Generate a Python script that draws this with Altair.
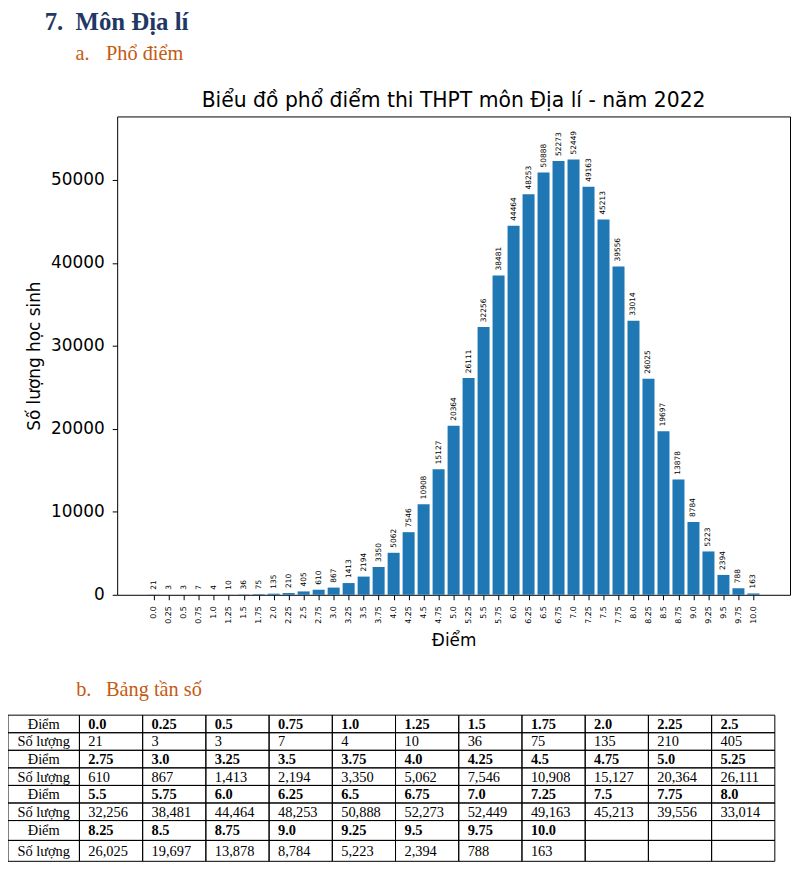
import altair as alt
import pandas as pd

# ---------------- data ----------------
SCORES = [0.0, 0.25, 0.5, 0.75, 1.0, 1.25, 1.5, 1.75, 2.0, 2.25, 2.5,
          2.75, 3.0, 3.25, 3.5, 3.75, 4.0, 4.25, 4.5, 4.75, 5.0, 5.25,
          5.5, 5.75, 6.0, 6.25, 6.5, 6.75, 7.0, 7.25, 7.5, 7.75, 8.0,
          8.25, 8.5, 8.75, 9.0, 9.25, 9.5, 9.75, 10.0]
COUNTS = [21, 3, 3, 7, 4, 10, 36, 75, 135, 210, 405,
          610, 867, 1413, 2194, 3350, 5062, 7546, 10908, 15127, 20364, 26111,
          32256, 38481, 44464, 48253, 50888, 52273, 52449, 49163, 45213, 39556, 33014,
          26025, 19697, 13878, 8784, 5223, 2394, 788, 163]
Y_TICKS = [0, 10000, 20000, 30000, 40000, 50000]

HEAD_NUM = "7."
HEAD_TEXT = "Môn Địa lí"
SUB_A = ("a.", "Phổ điểm")
SUB_B = ("b.", "Bảng tần số")
CHART_TITLE = "Biểu đồ phổ điểm thi THPT môn Địa lí - năm 2022"
X_TITLE = "Điểm"
Y_TITLE = "Số lượng học sinh"
ROW_LABELS = ["Điểm", "Số lượng"]

# ---------------- layout ----------------
W, H = 678, 482
SERIF = "Liberation Serif"
SANS = "DejaVu Sans"
NAVY = "#1F3864"
ORANGE = "#C55A11"

df = pd.DataFrame({"score": SCORES, "count": COUNTS})
df["label"] = df["count"].astype(str)

xscale = alt.Scale(domain=[-0.61, 10.61], nice=False, zero=False)
yscale = alt.Scale(domain=[0, 57640], nice=False)

xaxis = alt.Axis(
    values=SCORES, title=X_TITLE, labelAngle=270,
    labelExpr="datum.value % 1 === 0 ? format(datum.value, '.1f') : toString(datum.value)",
    labelFont=SANS, labelFontSize=8, labelColor="black", labelPadding=6,
    labelFlush=False, labelOverlap=False,
    tickSize=5, tickColor="black", tickWidth=1, domain=False, grid=False,
    titleFont=SANS, titleFontSize=17, titleFontWeight="normal", titleColor="black",
    titleX=W / 2, titleY=51, titleBaseline="alphabetic", titleAlign="center")
yaxis = alt.Axis(
    values=Y_TICKS, format="d", title=Y_TITLE,
    labelFont=SANS, labelFontSize=17, labelColor="black", labelPadding=8,
    tickSize=5, tickColor="black", tickWidth=1, domain=False, grid=False,
    titleFont=SANS, titleFontSize=17, titleFontWeight="normal", titleColor="black",
    titleAngle=270, titleX=-78.5, titleY=H / 2, titleBaseline="alphabetic",
    titleAlign="center")

bars = alt.Chart(df).transform_calculate(
    x0="datum.score - 0.1", x1="datum.score + 0.1", base="0"
).mark_rect(color="#1f77b4").encode(
    x=alt.X("x0:Q", scale=xscale, axis=xaxis, title=X_TITLE),
    x2="x1:Q",
    y=alt.Y("count:Q", scale=yscale, axis=yaxis, title=Y_TITLE),
    y2="base:Q",
)

bar_labels = alt.Chart(df).mark_text(
    angle=270, align="left", baseline="middle", dx=5,
    font=SANS, fontSize=7.5, color="black"
).encode(
    x=alt.X("score:Q", scale=xscale, axis=xaxis, title=X_TITLE),
    y=alt.Y("count:Q", scale=yscale, axis=yaxis, title=Y_TITLE),
    text="label:N",
)

plot = alt.layer(bars, bar_labels)


def label(txt, x, y, **style):
    return alt.Chart(pd.DataFrame({"t": [txt]})).mark_text(
        baseline="alphabetic", **style
    ).encode(x=alt.value(x), y=alt.value(y), text="t:N")


heads = [
    label(HEAD_NUM, -73, -87.5, align="left", font=SERIF, fontSize=25,
          fontWeight="bold", color=NAVY),
    label(HEAD_TEXT, -42, -87.5, align="left", font=SERIF, fontSize=25,
          fontWeight="bold", color=NAVY),
    label(SUB_A[0], -42, -56.7, align="left", font=SERIF, fontSize=20.5, color=ORANGE),
    label(SUB_A[1], -11.3, -56.7, align="left", font=SERIF, fontSize=20.5, color=ORANGE),
    label(CHART_TITLE, W / 2, -10, align="center", font=SANS, fontSize=20.5,
          color="black"),
    label(SUB_B[0], -41.3, 584.3, align="left", font=SERIF, fontSize=20.5, color=ORANGE),
    label(SUB_B[1], -11.3, 584.3, align="left", font=SERIF, fontSize=20.5, color=ORANGE),
]

# ---------------- table ----------------
ROW_EDGES = [0, 1, 2, 3, 4, 5, 6, 7.13, 8.32]
LABEL_COL = 1.13
cells = []
for p in range(4):
    for k in range(2):
        r = 2 * p + k
        cells.append(dict(row=r, col=0, kind="label", text=ROW_LABELS[k]))
        for j in range(11):
            i = 11 * p + j
            if i >= len(SCORES):
                txt = ""
            elif k == 0:
                txt = str(SCORES[i])
            else:
                txt = f"{COUNTS[i]:,}"
            cells.append(dict(row=r, col=j + 1, kind="score" if k == 0 else "count", text=txt))
tdf = pd.DataFrame(cells)
tdf["x0"] = tdf["col"].apply(lambda c: -LABEL_COL if c == 0 else c - 1)
tdf["x1"] = tdf["col"].apply(lambda c: 0 if c == 0 else c)
tdf["xc"] = (tdf["x0"] + tdf["x1"]) / 2
tdf["y0"] = tdf["row"].apply(lambda r: ROW_EDGES[r])
tdf["y1"] = tdf["row"].apply(lambda r: ROW_EDGES[r + 1])
tdf["yc"] = (tdf["y0"] + tdf["y1"]) / 2

tx = alt.Scale(domain=[-LABEL_COL, 11], range=[-110, 662.7], nice=False, zero=False)
ty = alt.Scale(domain=[0, ROW_EDGES[-1]], range=[603.3, 603.3 + ROW_EDGES[-1] * 17.7],
               nice=False, zero=False)

t_rect = alt.Chart(tdf).mark_rect(fillOpacity=0, stroke="black", strokeWidth=1).encode(
    x=alt.X("x0:Q", scale=tx, axis=None), x2="x1:Q",
    y=alt.Y("y0:Q", scale=ty, axis=None), y2="y1:Q",
)
t_lab = alt.Chart(tdf).transform_filter("datum.kind == 'label'").mark_text(
    align="center", baseline="middle", dy=1, font=SERIF, fontSize=14.5, color="black"
).encode(
    x=alt.X("xc:Q", scale=tx, axis=None),
    y=alt.Y("yc:Q", scale=ty, axis=None), text="text:N")
t_score = alt.Chart(tdf).transform_filter("datum.kind == 'score'").mark_text(
    align="left", baseline="middle", dx=9, dy=1, font=SERIF, fontSize=14.5,
    fontWeight="bold", color="black"
).encode(
    x=alt.X("x0:Q", scale=tx, axis=None),
    y=alt.Y("yc:Q", scale=ty, axis=None), text="text:N")
t_count = alt.Chart(tdf).transform_filter("datum.kind == 'count'").mark_text(
    align="left", baseline="middle", dx=9, dy=1, font=SERIF, fontSize=14.5, color="black"
).encode(
    x=alt.X("x0:Q", scale=tx, axis=None),
    y=alt.Y("yc:Q", scale=ty, axis=None), text="text:N")

table = alt.layer(t_rect, t_lab, t_score, t_count)

chart = alt.layer(plot, table, *heads).resolve_scale(
    x="independent", y="independent"
).properties(
    width=W, height=H,
    autosize=alt.AutoSizeParams(type="none"),
    padding={"left": 110, "top": 106, "right": 2, "bottom": 269},
).configure_view(stroke="black", strokeWidth=1)

chart.save("out.html", embed_options={"renderer": "svg", "actions": False})
